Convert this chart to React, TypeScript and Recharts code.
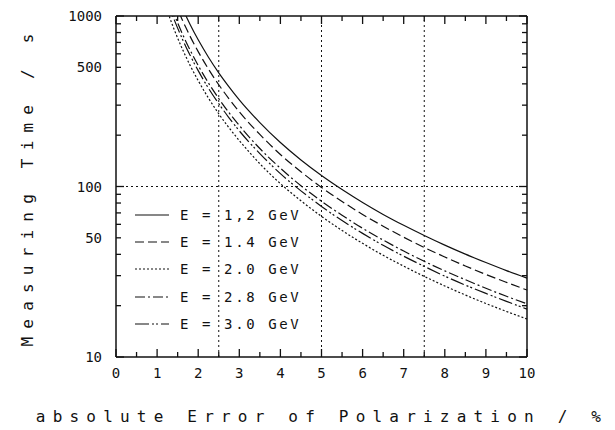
import React from 'react';
import { LineChart, Line, XAxis, YAxis, ReferenceLine, Legend, Label } from 'recharts';

// absolute error of polarization (%)
const errorPct = [1.2, 1.3, 1.4, 1.5, 1.6, 1.7, 1.8, 2, 2.25, 2.5, 2.75, 3, 3.5, 4, 4.5, 5, 5.5, 6, 6.5, 7, 7.5, 8, 8.5, 9, 9.5, 10];

// measuring time (s) per beam energy
const e12 = [2014, 1716, 1480, 1289, 1133, 1004, 895, 725, 573, 464, 384, 322, 237, 181, 143, 116, 96, 80.6, 68.6, 59.2, 51.6, 45.3, 40.1, 35.8, 32.1, 29];
const e14 = [1715, 1462, 1260, 1098, 965, 855, 762, 618, 488, 395, 327, 274, 202, 154, 122, 98.8, 81.7, 68.6, 58.5, 50.4, 43.9, 38.6, 34.2, 30.5, 27.4, 24.7];
const e20 = [1160, 988, 852, 742, 652, 578, 515, 418, 330, 267, 221, 186, 136, 104, 82.5, 66.8, 55.2, 46.4, 39.5, 34.1, 29.7, 26.1, 23.1, 20.6, 18.5, 16.7];
const e28 = [1424, 1213, 1046, 911, 801, 709, 633, 513, 405, 328, 271, 228, 167, 128, 101, 82, 67.8, 56.9, 48.5, 41.8, 36.4, 32, 28.4, 25.3, 22.7, 20.5];
const e30 = [1326, 1130, 974, 849, 746, 661, 590, 478, 377, 306, 253, 212, 156, 119, 94.3, 76.4, 63.1, 53.1, 45.2, 39, 34, 29.8, 26.4, 23.6, 21.2, 19.1];

const xTicks = [0, 0.5, 1, 1.5, 2, 2.5, 3, 3.5, 4, 4.5, 5, 5.5, 6, 6.5, 7, 7.5, 8, 8.5, 9, 9.5, 10];
const yTicks = [10, 20, 30, 40, 50, 60, 70, 80, 90, 100, 200, 300, 400, 500, 600, 700, 800, 900, 1000];
const yLabels = [10, 50, 100, 500, 1000];
const guideX = [2.5, 5, 7.5];
const guideY = [100];

const series = [
  { key: 'e12', name: 'E = 1,2 GeV', dash: undefined },
  { key: 'e14', name: 'E = 1.4 GeV', dash: '9 4' },
  { key: 'e20', name: 'E = 2.0 GeV', dash: '2 2' },
  { key: 'e28', name: 'E = 2.8 GeV', dash: '10 3 2 3' },
  { key: 'e30', name: 'E = 3.0 GeV', dash: '14 3 2 2 2 3' },
];

const data = errorPct.map((x, i) => ({ x, e12: e12[i], e14: e14[i], e20: e20[i], e28: e28[i], e30: e30[i] }));

const FONT = '"DejaVu Sans Mono", monospace';
const INK = '#111';
const TICK_W = 1.3;

const BottomTick = ({ x, y, payload }: any) => {
  const v = payload.value;
  const major = Number.isInteger(v);
  return (
    <g>
      <path d={`M${x},${y}V${y - (major ? 8 : 5)}`} stroke={INK} strokeWidth={TICK_W} fill="none" />
      {major && (
        <text x={x} y={y + 21} textAnchor="middle" fontFamily={FONT} fontSize={14} fill={INK}>{v}</text>
      )}
    </g>
  );
};

const TopTick = ({ x, y, payload }: any) => {
  const major = Number.isInteger(payload.value);
  return <path d={`M${x},${y}V${y + (major ? 8 : 5)}`} stroke={INK} strokeWidth={TICK_W} fill="none" />;
};

const isDecade = (v: number) => v === 10 || v === 100 || v === 1000;

const LeftTick = ({ x, y, payload }: any) => {
  const v = payload.value;
  return (
    <g>
      <path d={`M${x},${y}H${x + (isDecade(v) ? 8 : 5)}`} stroke={INK} strokeWidth={TICK_W} fill="none" />
      {yLabels.includes(v) && (
        <text x={x - 14} y={y + 5} textAnchor="end" fontFamily={FONT} fontSize={14} fill={INK}>{v}</text>
      )}
    </g>
  );
};

const RightTick = ({ x, y, payload }: any) => (
  <path d={`M${x},${y}H${x - (isDecade(payload.value) ? 8 : 5)}`} stroke={INK} strokeWidth={TICK_W} fill="none" />
);

const renderLegend = () => (
  <div style={{ fontFamily: FONT, fontSize: 14, letterSpacing: 2.6, color: INK }}>
    {series.map((s) => (
      <div key={s.key} style={{ display: 'flex', alignItems: 'center', height: 27.3 }}>
        <svg width={34} height={10}>
          <line x1={0} x2={34} y1={5} y2={5} stroke={INK} strokeWidth={1.2} strokeDasharray={s.dash} />
        </svg>
        <span style={{ marginLeft: 11, whiteSpace: 'pre' }}>{s.name}</span>
      </div>
    ))}
  </div>
);

const axisLine = { stroke: INK, strokeWidth: 1.5 };

export default function App() {
  return (
    <div style={{ position: 'absolute', left: 0, top: 0, background: '#fff' }}>
      <LineChart width={615} height={430} data={data} margin={{ top: 15, right: 87, bottom: 0, left: 0 }}>
        <XAxis
          xAxisId="b"
          dataKey="x"
          type="number"
          domain={[0, 10]}
          ticks={xTicks}
          interval={0}
          height={73}
          tickLine={false}
          tickSize={0}
          tickMargin={0}
          tick={<BottomTick />}
          axisLine={axisLine}
        >
          <Label
            content={() => (
              <text x={322} y={422} textAnchor="middle" fontFamily={FONT} fontSize={16} letterSpacing={7.2} fill={INK}>
                absolute Error of Polarization / %
              </text>
            )}
          />
        </XAxis>
        <XAxis
          xAxisId="t"
          orientation="top"
          dataKey="x"
          type="number"
          domain={[0, 10]}
          ticks={xTicks}
          interval={0}
          height={1}
          tickLine={false}
          tickSize={0}
          tickMargin={0}
          tick={<TopTick />}
          axisLine={axisLine}
        />
        <YAxis
          yAxisId="l"
          scale="log"
          domain={[10, 1000]}
          allowDataOverflow
          ticks={yTicks}
          interval={0}
          width={116}
          tickLine={false}
          tickSize={0}
          tickMargin={0}
          tick={<LeftTick />}
          axisLine={axisLine}
        >
          <Label
            content={() => (
              <text x={33} y={186} transform="rotate(-90, 33, 186)" textAnchor="middle" fontFamily={FONT} fontSize={16} letterSpacing={8.2} fill={INK}>
                Measuring Time / s
              </text>
            )}
          />
        </YAxis>
        <YAxis
          yAxisId="r"
          orientation="right"
          scale="log"
          domain={[10, 1000]}
          allowDataOverflow
          ticks={yTicks}
          interval={0}
          width={1}
          tickLine={false}
          tickSize={0}
          tickMargin={0}
          tick={<RightTick />}
          axisLine={axisLine}
        />
        {guideX.map((g) => (
          <ReferenceLine key={`gx-${g}`} xAxisId="b" yAxisId="l" x={g} stroke={INK} strokeDasharray="2 3" />
        ))}
        {guideY.map((g) => (
          <ReferenceLine key={`gy-${g}`} xAxisId="b" yAxisId="l" y={g} stroke={INK} strokeDasharray="2 3" />
        ))}
        {series.map((s) => (
          <Line
            key={s.key}
            xAxisId="b"
            yAxisId="l"
            dataKey={s.key}
            name={s.name}
            type="monotone"
            stroke={INK}
            strokeWidth={1.2}
            strokeDasharray={s.dash}
            dot={false}
            activeDot={false}
            isAnimationActive={false}
          />
        ))}
        <Legend
          layout="vertical"
          align="center"
          verticalAlign="middle"
          content={renderLegend}
          wrapperStyle={{ left: 135, top: 201, width: 'auto' }}
        />
      </LineChart>
    </div>
  );
}
